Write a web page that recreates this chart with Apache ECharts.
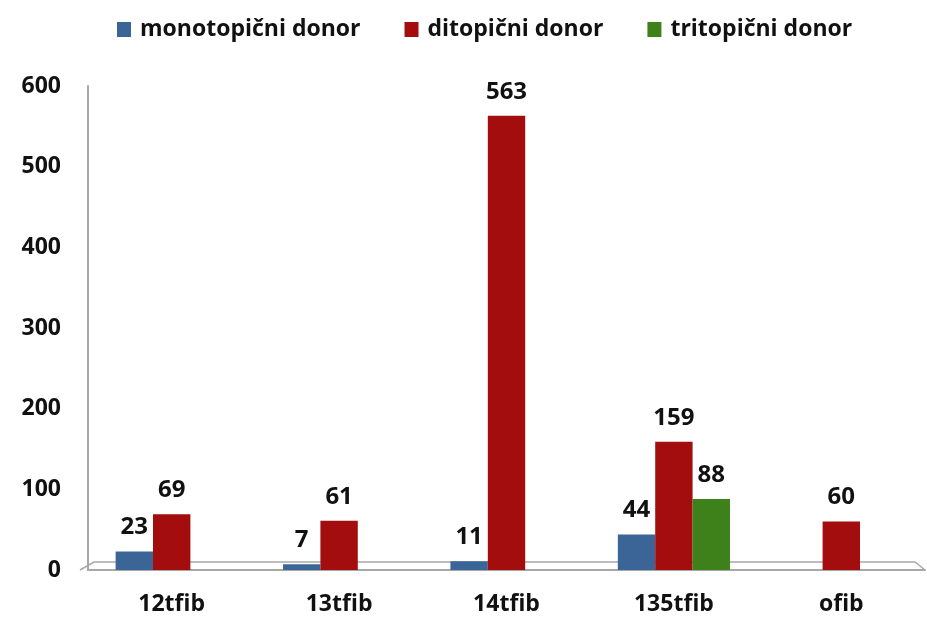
<!DOCTYPE html>
<html><head><meta charset="utf-8">
<script src="https://cdn.jsdelivr.net/npm/echarts@6/dist/echarts.min.js"></script>
<style>html,body{margin:0;padding:0;background:#fff}#c{width:927px;height:617px}</style>
</head><body><div id="c"></div>
<script>
const categories = ['12tfib', '13tfib', '14tfib', '135tfib', 'ofib'];
const seriesNames = ['monotopični donor', 'ditopični donor', 'tritopični donor'];
const mono = [23, 7, 11, 44, null];
const di = [69, 61, 563, 159, 60];
const tri = [null, null, null, 88, null];
const colors = ['#3B6597', '#A30D0D', '#3E8019'];
const font = '"Open Sans", Lato, sans-serif';

const chart = echarts.init(document.getElementById('c'));
const mk = (name, data, color) => ({
  name, type: 'bar', data, barGap: '0%', barCategoryGap: '33%',
  itemStyle: { color },
  label: { show: true, position: 'top', distance: 12, color: '#111', fontWeight: 'bold', fontSize: 24, fontFamily: font }
});
chart.setOption({
  animation: false,
  textStyle: { fontFamily: font },
  legend: {
    top: 13, left: 112, itemWidth: 14, itemHeight: 15, itemGap: 44,
    icon: 'rect',
    textStyle: { fontSize: 23, fontWeight: 'bold', color: '#111', fontFamily: font, padding: [0, 0, 0, 4] }
  },
  grid: { left: 88, right: 2, top: 86, bottom: 47 },
  xAxis: {
    type: 'category', data: categories,
    axisLine: { lineStyle: { color: '#A8A8A8', width: 2 } },
    axisTick: { show: false },
    axisLabel: { fontSize: 23, fontWeight: 'bold', color: '#111', margin: 23, fontFamily: font }
  },
  yAxis: {
    type: 'value', min: 0, max: 600, interval: 100,
    axisLine: { show: true, lineStyle: { color: '#A8A8A8', width: 2 } },
    splitLine: { show: false },
    axisTick: { show: false },
    axisLabel: { fontSize: 23, fontWeight: 'bold', color: '#111', margin: 27, fontFamily: font }
  },
  series: [mk(seriesNames[0], mono, colors[0]), mk(seriesNames[1], di, colors[1]), mk(seriesNames[2], tri, colors[2])]
});
// pseudo-3D floor: back edge of the floor, derived from the axes
const p0 = chart.convertToPixel({ gridIndex: 0 }, [0, 0]);
const gridRect = chart.getModel().getComponent('grid').coordinateSystem.getRect();
chart.setOption({
  graphic: [{
    type: 'polyline', silent: true,
    shape: { points: [[gridRect.x - 8, p0[1]], [gridRect.x + 6, p0[1] - 8], [gridRect.x + gridRect.width - 10, p0[1] - 8], [gridRect.x + gridRect.width, p0[1]]] },
    style: { stroke: '#A8A8A8', lineWidth: 1.5, fill: null }, z: 0
  }]
});
</script></body></html>
